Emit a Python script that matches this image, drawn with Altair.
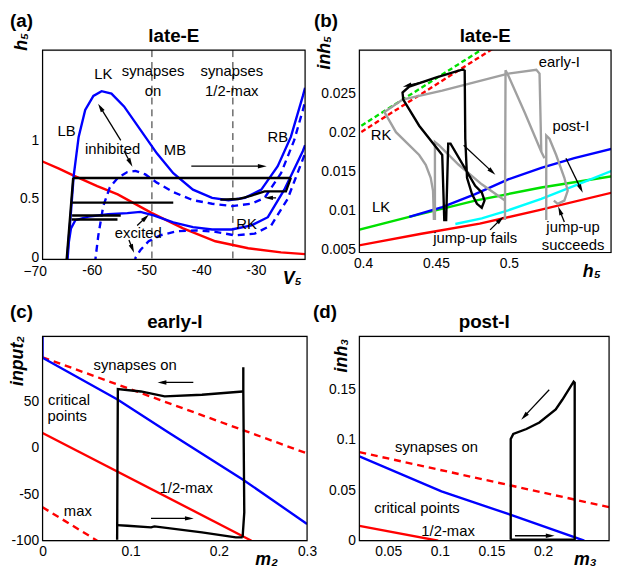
import math
import altair as alt
import pandas as pd

FONT = "Liberation Sans"
BLUE, RED, BLACK, GRAY, GREEN, CYAN = "#0000ff", "#ff0000", "#000000", "#a0a0a0", "#00e000", "#00ffff"
HEAD = "M0,-1L0.5,1L-0.5,1Z"

# ---------------- panel (a) late-E : V5 vs h5 ----------------
A_up_solid_V = [-64.6, -64.5, -63.9, -63.3, -62.4, -61.2, -59.7, -58.2, -56.4, -54.1, -51.1, -48.1, -45.1, -41.5, -38.0, -35.0, -32.0, -29.0, -26.0, -23.6, -21.4, -21.0]
A_up_solid_h = [-0.05, 0.0, 0.33, 0.70, 1.03, 1.26, 1.38, 1.42, 1.40, 1.29, 1.09, 0.89, 0.72, 0.58, 0.51, 0.49, 0.51, 0.58, 0.78, 1.03, 1.38, 1.45]
A_up_dash_V = [-59.4, -59.3, -58.8, -57.9, -56.7, -55.25, -53.5, -52.0, -50.2, -48.1, -45.1, -41.5, -38.0, -34.4, -30.8, -28.4, -25.4, -23.0, -21.4, -21.0]
A_up_dash_h = [-0.05, 0.0, 0.19, 0.44, 0.60, 0.68, 0.73, 0.74, 0.71, 0.64, 0.56, 0.49, 0.46, 0.44, 0.46, 0.51, 0.72, 1.0, 1.26, 1.33]
A_lo_solid_V = [-64.5, -64.4, -64.2, -63.8, -63.0, -60.6, -57.0, -53.5, -51.1, -48.7, -45.1, -41.5, -38.0, -34.4, -30.8, -27.8, -24.8, -21.4, -21.0]
A_lo_solid_h = [-0.05, 0.0, 0.13, 0.25, 0.32, 0.35, 0.37, 0.38, 0.39, 0.36, 0.30, 0.26, 0.24, 0.24, 0.275, 0.345, 0.58, 0.91, 0.96]
A_lo_dash_V = [-52.1, -52.0, -51.1, -49.6, -47.5, -44.5, -40.9, -37.4, -33.8, -30.2, -27.2, -24.2, -21.4, -21.0]
A_lo_dash_h = [-0.05, 0.0, 0.065, 0.14, 0.19, 0.225, 0.233, 0.22, 0.19, 0.205, 0.275, 0.50, 0.84, 0.89]
A_red_V = [-69.0, -66.0, -63.3, -59.0, -55.25, -49.0, -43.3, -37.4, -31.4, -25.4, -21.0]
A_red_h = [0.82, 0.76, 0.70, 0.61, 0.54, 0.38, 0.25, 0.14, 0.08, 0.045, 0.03]
A_black = [
    ([-64.6, -64.0, -63.4], [-0.02, 0.33, 0.68]),
    ([-63.4, -23.6], [0.68, 0.68]),
    ([-23.6, -24.5, -28.4, -30.8, -33.2, -36.5], [0.68, 0.565, 0.565, 0.53, 0.50, 0.495]),
    ([-63.6, -45.1], [0.47, 0.47]),
    ([-63.6, -54.7], [0.36, 0.36]),
    ([-63.7, -55.3], [0.325, 0.325]),
]
A_vlines = [-49.0, -34.2]
A_arrows = [(-41.8, 0.78, -28.1, 0.78), (-54.7, 1.0, -58.8, 1.31), (-54.1, 0.91, -52.6, 0.78),
            (-26.3, 0.51, -28.4, 0.51), (-51.7, 0.275, -49.6, 0.365), (-53.2, 0.15, -52.3, 0.045)]
A_text = [("LK", -57.9, 1.57), ("LB", -64.6, 1.08), ("inhibited", -56.2, 0.93), ("MB", -44.8, 0.92),
          ("RB", -26.0, 1.03), ("RK", -31.7, 0.29), ("excited", -51.5, 0.21), ("synapses", -48.8, 1.59),
          ("on", -48.8, 1.42), ("synapses", -34.4, 1.59), ("1/2-max", -34.4, 1.42)]
A_xticks = [-60, -50, -40, -30]
A_xtick_out = [-70]
A_yticks = [0, 0.5, 1]

# ---------------- panel (b) late-E : h5 vs inh5 ----------------
B_red_h = [0.394, 0.44, 0.48, 0.52, 0.5715]
B_red_i = [0.0054, 0.0070, 0.0083, 0.0100, 0.0123]
B_green_h = [0.3943, 0.4317, 0.4769, 0.5222, 0.5715]
B_green_i = [0.00738, 0.00917, 0.01125, 0.01292, 0.01438]
B_blue_h = [0.4317, 0.4543, 0.4769, 0.4995, 0.5222, 0.5448, 0.5715]
B_blue_i = [0.00917, 0.01042, 0.01208, 0.01396, 0.01542, 0.01667, 0.01792]
B_cyan_h = [0.4633, 0.4814, 0.4995, 0.5222, 0.5448, 0.5715]
B_cyan_i = [0.00825, 0.00896, 0.0100, 0.01146, 0.01313, 0.01513]
B_gdash_h = [0.3943, 0.49]
B_gdash_i = [0.0203, 0.0316]
B_rdash_h = [0.3943, 0.495]
B_rdash_i = [0.0195, 0.0314]
B_black_h = [0.4697, 0.4701, 0.4713, 0.4747, 0.4781, 0.4814, 0.4833, 0.4814, 0.4769, 0.4600, 0.4584, 0.4570,
             0.4557, 0.4543, 0.4385, 0.4276, 0.4271, 0.4317, 0.4498, 0.4679, 0.4697]
B_black_i = [0.0280, 0.01917, 0.01417, 0.01208, 0.01083, 0.01033, 0.01125, 0.01229, 0.01313, 0.01854, 0.01854, 0.00875,
             0.00875, 0.01708, 0.02083, 0.02417, 0.02508, 0.02583, 0.0270, 0.0280, 0.0280]
B_gray = [
    ([0.5222, 0.5210, 0.5188, 0.4995, 0.4543, 0.4271, 0.4147, 0.4226, 0.4385, 0.4430, 0.4464, 0.4480, 0.4486],
     [0.0175, 0.0275, 0.0280, 0.0275, 0.02533, 0.02417, 0.02258, 0.0200, 0.01708, 0.01583, 0.01417, 0.0125, 0.00875]),
    ([0.4493, 0.4493, 0.4520, 0.4656, 0.4814, 0.4973],
     [0.00875, 0.01875, 0.01833, 0.01583, 0.01333, 0.01125]),
    ([0.4973, 0.4977, 0.4995, 0.5109, 0.5222, 0.5244],
     [0.00875, 0.02792, 0.02729, 0.0225, 0.0175, 0.01667]),
    ([0.5256, 0.5256, 0.5278, 0.5324, 0.5380, 0.5403, 0.5380, 0.5335, 0.5308],
     [0.00875, 0.01958, 0.01917, 0.01708, 0.01417, 0.0125, 0.01125, 0.01083, 0.01125]),
]
B_arrows = [(0.4441, 0.02658, 0.4276, 0.02583), (0.4690, 0.01833, 0.4905, 0.01458), (0.5391, 0.01667, 0.5505, 0.01229),
            (0.4871, 0.0075, 0.4962, 0.00917), (0.5380, 0.00850, 0.5339, 0.01042)]
B_text = [("early-I", 0.5346, 0.0290), ("post-I", 0.5425, 0.0208), ("RK", 0.4124, 0.0196), ("LK", 0.4124, 0.0104),
          ("jump-up fails", 0.4769, 0.0064), ("jump-up", 0.5440, 0.0078), ("succeeds", 0.5440, 0.0056)]
B_xticks = [0.4, 0.45, 0.5]
B_yticks = [0.005, 0.01, 0.015, 0.02, 0.025]

# ---------------- panel (c) early-I : m2 vs input2 ----------------
C_blue_m = [0, 0, 0.085, 0.142, 0.227, 0.3]
C_blue_u = [122, 97, 52, 17, -34, -82]
C_red_m = [0, 0.237]
C_red_u = [16, -100]
C_rdash1_m = [0, 0.3]
C_rdash1_u = [97.5, -6]
C_rdash2_m = [0, 0.062]
C_rdash2_u = [-64, -100]
C_black = [
    ([0.0846, 0.0854, 0.1115, 0.1385, 0.1808, 0.2269, 0.2277], [-99, 63.2, 60.7, 55.4, 57.1, 60.7, 60.7]),
    ([0.2277, 0.2277, 0.2288, 0.2269], [86.8, 60.7, -69.6, -96.4]),
    ([0.2269, 0.2192, 0.1808, 0.1269, 0.1231, 0.0962, 0.0846], [-96.4, -96.4, -91.1, -84.6, -85.7, -83.9, -83.2]),
]
C_arrows = [(0.171, 70.4, 0.131, 70.4), (0.123, -76, 0.171, -76)]
C_text = [("synapses on", 0.105, 89), ("critical", 0.030, 51.8), ("points", 0.028, 34),
          ("1/2-max", 0.163, -43), ("max", 0.040, -68)]
C_xticks = [0, 0.1, 0.2, 0.3]
C_yticks = [-100, -50, 0, 50]

# ---------------- panel (d) post-I : m3 vs inh3 ----------------
D_rdash_m = [0.022, 0.264]
D_rdash_i = [0.088, 0.0333]
D_blue_m = [0.022, 0.1016, 0.1696, 0.240]
D_blue_i = [0.0838, 0.049, 0.0254, 0.0]
D_red_m = [0.022, 0.0984]
D_red_i = [0.0147, 0.0]
D_black_m = [0.1687, 0.1687, 0.1712, 0.1839, 0.1965, 0.2123, 0.2187, 0.2297, 0.2307, 0.2307, 0.1687]
D_black_i = [0.001, 0.101, 0.106, 0.111, 0.1174, 0.1305, 0.140, 0.158, 0.157, 0.001, 0.001]
D_arrows = [(0.206, 0.15, 0.1792, 0.1206), (0.1728, 0.0049, 0.2108, 0.0049)]
D_text = [("synapses on", 0.0968, 0.093), ("critical points", 0.0778, 0.0326), ("1/2-max", 0.108, 0.0098)]
D_xticks = [0.05, 0.1, 0.15, 0.2]
D_yticks = [0, 0.05, 0.1, 0.15]

LABEL_EXPR = "replace(format(datum.value, '~g'), '\u2212', '-')"


def seg_df(segs):
    rows = []
    for k, (xs, ys) in enumerate(segs):
        for i, (x, y) in enumerate(zip(xs, ys)):
            rows.append({"x": x, "y": y, "seg": k, "o": i})
    return pd.DataFrame(rows)


def lines(segs, X, Y, color, width=2.4, dash=None):
    kw = dict(color=color, strokeWidth=width, clip=True)
    if dash:
        kw["strokeDash"] = dash
    return alt.Chart(seg_df(segs)).mark_line(**kw).encode(x=X, y=Y, detail="seg:N", order="o:Q")


def arrows(arrs, X, Y, dx, dy, w, h):
    sx = w / (dx[1] - dx[0])
    sy = h / (dy[1] - dy[0])
    shafts, heads = [], []
    for (x1, y1, x2, y2) in arrs:
        dxp, dyp = (x2 - x1) * sx, -(y2 - y1) * sy
        L = math.hypot(dxp, dyp)
        ux, uy = dxp / L, dyp / L
        back = 4.0
        hx, hy = x2 - ux * back / sx, y2 + uy * back / sy
        ang = math.degrees(math.atan2(ux, -uy)) % 360
        shafts.append(([x1, hx], [y1, hy]))
        heads.append({"x": hx, "y": hy, "ang": ang})
    s = lines(shafts, X, Y, BLACK, width=1.3)
    hd = alt.Chart(pd.DataFrame(heads)).mark_point(shape=HEAD, filled=True, size=80, color=BLACK, opacity=1,
                                                    strokeWidth=0).encode(x=X, y=Y, angle=alt.Angle("ang:Q", scale=None))
    return [s, hd]


def texts(items, X, Y, size=15):
    df = pd.DataFrame(items, columns=["t", "x", "y"])
    return alt.Chart(df).mark_text(font=FONT, fontSize=size, color=BLACK).encode(x=X, y=Y, text="t:N")


def label(t, px, py, size=19, bold=True, align="left", baseline="top"):
    return alt.Chart(pd.DataFrame({"t": [t]})).mark_text(
        font=FONT, fontSize=size, fontWeight="bold" if bold else "normal", align=align, baseline=baseline, color=BLACK
    ).encode(x=alt.value(px), y=alt.value(py), text="t:N")


def frame(w, h):
    return alt.Chart(pd.DataFrame({"a": [0]})).mark_rect(fillOpacity=0, stroke=BLACK, strokeWidth=1.2).encode(
        x=alt.value(0), x2=alt.value(w), y=alt.value(0), y2=alt.value(h))


def enc(dx, dy, xt, yt, xtitle, ytitle, xtx, ytx, yty):
    common = dict(labelFont=FONT, labelFontSize=14, labelColor=BLACK, ticks=False, domain=False, grid=False,
                  labelFlush=False, labelOverlap=False, labelExpr=LABEL_EXPR, titleFont=FONT, titleFontSize=18,
                  titleFontWeight="bold", titleFontStyle="italic", titleColor=BLACK, titleBaseline="alphabetic")
    X = alt.X("x:Q", scale=alt.Scale(domain=dx, nice=False, zero=False),
              axis=alt.Axis(values=xt, title=xtitle, titleX=xtx, titleY=24, titleAlign="right", labelPadding=4, **common))
    Y = alt.Y("y:Q", scale=alt.Scale(domain=dy, nice=False, zero=False),
              axis=alt.Axis(values=yt, title=ytitle, titleX=ytx, titleY=yty, titleAngle=270, titleAlign="right",
                            labelPadding=4, **common))
    return X, Y


def panel(layers, w, h, title, letter, lx, ly):
    extra = [frame(w, h), label(title, w / 2, -8, align="center", baseline="alphabetic"), label(letter, lx, ly)]
    return alt.layer(*layers, *extra).properties(width=w, height=h)


# ----- (a) -----
AW, AH, ADX, ADY = 266, 212, [-69, -21], [-0.015, 1.77]
X, Y = enc(ADX, ADY, A_xticks, A_yticks, "V\u2085", "h\u2085", 262, -16, -18)
A_layers = [
    alt.Chart(pd.DataFrame({"x": A_vlines})).mark_rule(color="#222222", strokeWidth=1, strokeDash=[7, 5]).encode(x=X),
    lines([(A_red_V, A_red_h)], X, Y, RED),
    lines([(A_up_dash_V, A_up_dash_h), (A_lo_dash_V, A_lo_dash_h)], X, Y, BLUE, dash=[7, 5]),
    lines([(A_up_solid_V, A_up_solid_h), (A_lo_solid_V, A_lo_solid_h)], X, Y, BLUE),
    lines(A_black, X, Y, BLACK),
    *arrows(A_arrows, X, Y, ADX, ADY, AW, AH),
    texts(A_text, X, Y),
    alt.Chart(pd.DataFrame({"x": A_xtick_out})).mark_text(font=FONT, fontSize=14, color=BLACK, baseline="top",
                                                          dx=-2).encode(
        x=X, y=alt.value(AH + 6), text=alt.Text("x:Q", format="d")),
]
A = panel(A_layers, AW, AH, "late-E", "(a)", -33, -38)

# ----- (b) -----
BW, BH, BDX, BDY = 255, 205, [0.3975, 0.570], [0.0046, 0.0305]
X, Y = enc(BDX, BDY, B_xticks, B_yticks, "h\u2085", "inh\u2085", 244, -30, -15)
B_layers = [
    lines([(B_red_h, B_red_i)], X, Y, RED),
    lines([(B_green_h, B_green_i)], X, Y, GREEN),
    lines([(B_cyan_h, B_cyan_i)], X, Y, CYAN),
    lines([(B_blue_h, B_blue_i)], X, Y, BLUE),
    lines([(B_gdash_h, B_gdash_i)], X, Y, GREEN, dash=[5, 3]),
    lines([(B_rdash_h, B_rdash_i)], X, Y, RED, dash=[5, 3]),
    lines(B_gray, X, Y, GRAY),
    lines([(B_black_h, B_black_i)], X, Y, BLACK),
    *arrows(B_arrows, X, Y, BDX, BDY, BW, BH),
    texts(B_text, X, Y),
]
B = panel(B_layers, BW, BH, "late-E", "(b)", -46, -38)

# ----- (c) -----
CW, CH, CDX, CDY = 268, 207, [0, 0.3], [-100, 120]
X, Y = enc(CDX, CDY, C_xticks, C_yticks, "m\u2082", "input\u2082", 238, -20, -1)
C_layers = [
    lines([(C_rdash1_m, C_rdash1_u), (C_rdash2_m, C_rdash2_u)], X, Y, RED, dash=[7, 5]),
    lines([(C_red_m, C_red_u)], X, Y, RED),
    lines([(C_blue_m, C_blue_u)], X, Y, BLUE),
    lines(C_black, X, Y, BLACK),
    *arrows(C_arrows, X, Y, CDX, CDY, CW, CH),
    texts(C_text, X, Y),
]
C = panel(C_layers, CW, CH, "early-I", "(c)", -33, -34)

# ----- (d) -----
DW, DH, DDX, DDY = 253, 207, [0.022, 0.264], [0, 0.203]
X, Y = enc(DDX, DDY, D_xticks, D_yticks, "m\u2083", "inh\u2083", 240, -13, 2)
D_layers = [
    lines([(D_rdash_m, D_rdash_i)], X, Y, RED, dash=[7, 5]),
    lines([(D_red_m, D_red_i)], X, Y, RED),
    lines([(D_blue_m, D_blue_i)], X, Y, BLUE),
    lines([(D_black_m, D_black_i)], X, Y, BLACK),
    *arrows(D_arrows, X, Y, DDX, DDY, DW, DH),
    texts(D_text, X, Y),
]
D = panel(D_layers, DW, DH, "post-I", "(d)", -47, -34)

chart = alt.concat(A, B, C, D, columns=2, spacing={"row": 78, "column": 53}, bounds="flush").properties(
    padding={"left": 0, "top": 0, "right": 0, "bottom": 0}
).configure_view(stroke=BLACK, strokeWidth=1.2).configure(background="white")

chart.save("out.html", embed_options={"renderer": "svg", "actions": False})
